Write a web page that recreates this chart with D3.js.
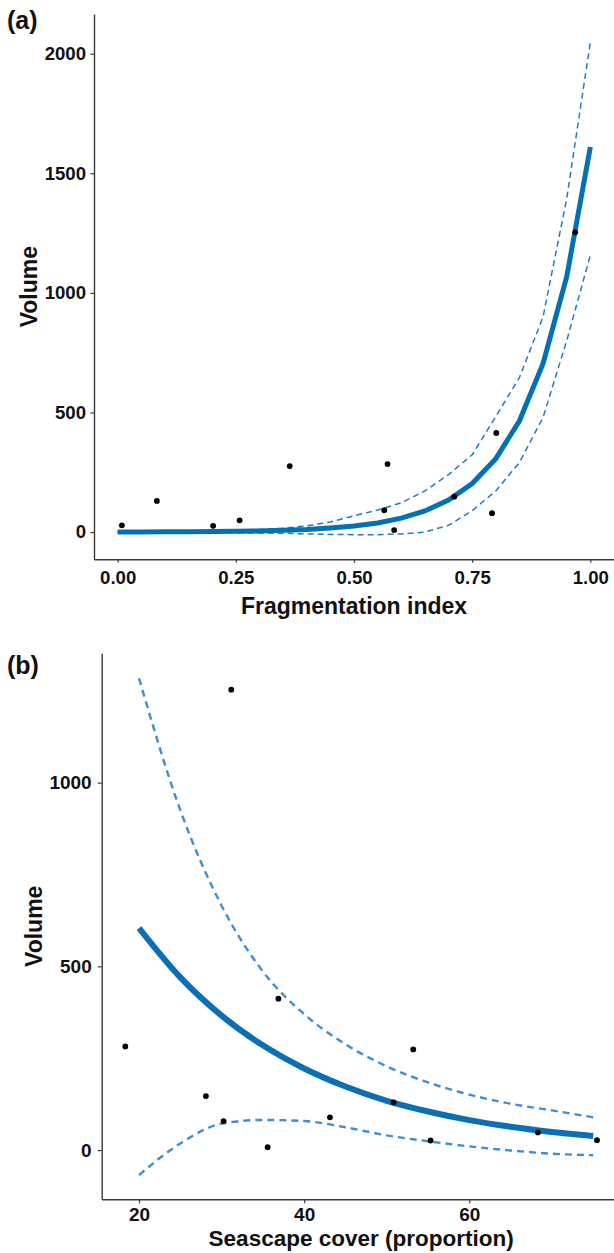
<!DOCTYPE html>
<html>
<head>
<meta charset="utf-8">
<script src="https://cdn.jsdelivr.net/npm/d3@7"></script>
<style>
  body { margin: 0; background: #fff; }
  svg { display: block; font-family: "Liberation Sans", Arial, sans-serif; }
  .tick text { font-weight: bold; fill: #111; }
  .ttl { font-weight: bold; fill: #111; }
</style>
</head>
<body>
<svg width="614" height="1253"></svg>
<script>
  // panel (a): volume vs fragmentation index
  const fragIndex  = [0.009, 0.083, 0.202, 0.258, 0.364, 0.571, 0.564, 0.585, 0.712, 0.792, 0.801, 0.968];
  const fragVolume = [28, 130, 26, 49, 276, 284, 91, 8, 148, 79, 414, 1253];
  const fragGrid   = [0, 0.05, 0.1, 0.15, 0.2, 0.25, 0.3, 0.35, 0.4, 0.45, 0.5, 0.55, 0.6, 0.65, 0.7, 0.75, 0.8, 0.85, 0.9, 0.95, 1];
  const fragFit    = [0.4, 0.6, 0.9, 1.4, 2.1, 3.2, 4.8, 7.3, 11, 17, 25, 38, 58, 88, 134, 203, 307, 465, 705, 1068, 1610];
  const fragUpper  = [1.6, 2.2, 3, 4, 5.5, 7.5, 11, 16, 26, 42, 68, 92, 122, 172, 240, 323, 483, 646, 900, 1394, 2048];
  const fragLower  = [-1, -1.5, -2, -2.5, -3, -3.5, -4, -5, -8, -10, -11, -11, -8, 0, 28, 89, 172, 291, 480, 800, 1158];
  const fragTicks  = [0, 0.25, 0.5, 0.75, 1];
  const volTicksA  = [0, 500, 1000, 1500, 2000];

  // panel (b): volume vs seascape cover
  const seaCover  = [18.34, 36.88, 53.21, 28.1, 50.83, 30.24, 43.12, 35.58, 55.31, 68.3, 75.46, 31.17];
  const seaVolume = [282, 412, 274, 147, 130, 79, 89, 8, 26, 48, 27, 1253];
  const seaGrid   = [20, 25, 30, 35, 40, 45, 50, 55, 60, 65, 70, 75];
  const seaFit    = [604, 470, 366, 285, 222, 173, 134, 105, 81.5, 63.5, 49.4, 38.5];
  const seaUpper  = [1284, 925, 665, 486, 370, 288, 228, 184, 151, 126, 108, 89];
  const seaLower  = [-68, 18, 72, 82, 79, 62, 40, 24, 10, -1, -10, -14];
  const seaTicks  = [20, 40, 60];
  const volTicksB = [0, 500, 1000];

  const svg = d3.select("svg");

  const drawPanel = (p) => {
    const x = d3.scaleLinear().domain(p.xDomain).range(p.xRange);
    const y = d3.scaleLinear().domain(p.yDomain).range(p.yRange);
    const g = svg.append("g");

    const line = (ys) => d3.line()
      .x((d, i) => x(p.grid[i]))
      .y(d => y(d))
      .curve(p.curve)(ys);

    g.append("path").attr("d", line(p.upper))
      .attr("fill", "none").attr("stroke", p.dashColor)
      .attr("stroke-width", p.dashWidth).attr("stroke-dasharray", p.dash);
    g.append("path").attr("d", line(p.lower))
      .attr("fill", "none").attr("stroke", p.dashColor)
      .attr("stroke-width", p.dashWidth).attr("stroke-dasharray", p.dash);
    g.append("path").attr("d", line(p.fit))
      .attr("fill", "none").attr("stroke", p.fitColor)
      .attr("stroke-width", p.fitWidth);

    g.selectAll("circle.pt").data(p.xs).enter().append("circle")
      .attr("class", "pt")
      .attr("cx", d => x(d))
      .attr("cy", (d, i) => y(p.ys[i]))
      .attr("r", 2.9)
      .attr("fill", "#000");

    const xAxis = g.append("g")
      .attr("transform", `translate(0,${p.yRange[0]})`)
      .call(d3.axisBottom(x).tickValues(p.xTicks).tickFormat(p.xFormat)
        .tickSize(p.tickLen).tickSizeOuter(0).tickPadding(p.xPad));
    const yAxis = g.append("g")
      .attr("transform", `translate(${p.xRange[0]},0)`)
      .call(d3.axisLeft(y).tickValues(p.yTicks).tickFormat(d3.format("d"))
        .tickSize(p.tickLen).tickSizeOuter(0).tickPadding(p.yPad));
    [xAxis, yAxis].forEach(a => {
      a.select(".domain").attr("stroke", "#3a3a3a").attr("stroke-width", 1.4);
      a.selectAll(".tick line").attr("stroke", "#3a3a3a").attr("stroke-width", 1.2);
      a.selectAll(".tick text").attr("font-size", p.tickFont);
    });

    g.append("text").attr("class", "ttl")
      .attr("x", (p.xRange[0] + p.xRange[1]) / 2)
      .attr("y", p.xTitleY)
      .attr("text-anchor", "middle")
      .attr("font-size", p.titleFont)
      .text(p.xTitle);
    g.append("text").attr("class", "ttl")
      .attr("transform", `translate(${p.yTitleX},${(p.yRange[0] + p.yRange[1]) / 2}) rotate(-90)`)
      .attr("text-anchor", "middle")
      .attr("font-size", 23)
      .text("Volume");
    g.append("text").attr("class", "ttl")
      .attr("x", 7).attr("y", p.tagY)
      .attr("font-size", 25)
      .text(p.tag);
  };

  drawPanel({
    tag: "(a)", tagY: 29,
    xs: fragIndex, ys: fragVolume,
    grid: fragGrid, fit: fragFit, upper: fragUpper, lower: fragLower,
    xDomain: [-0.05, 1.05], xRange: [94, 614],
    yDomain: [-114, 2166], yRange: [559.3, 14],
    xTicks: fragTicks, yTicks: volTicksA, xFormat: d3.format(".2f"),
    tickLen: 3.5, xPad: 7.5, yPad: 4.5, tickFont: 18.6,
    fitColor: "#0071b4", fitWidth: 5,
    dashColor: "#1f7cbf", dashWidth: 1.5, dash: "6,4",
    curve: d3.curveLinear,
    xTitle: "Fragmentation index", xTitleY: 614, yTitleX: 37, titleFont: 23
  });

  drawPanel({
    tag: "(b)", tagY: 674,
    xs: seaCover, ys: seaVolume,
    grid: seaGrid, fit: seaFit, upper: seaUpper, lower: seaLower,
    xDomain: [15.48, 78.32], xRange: [101.7, 620.6],
    yDomain: [-134, 1352], yRange: [1199.3, 653.3],
    xTicks: seaTicks, yTicks: volTicksB, xFormat: d3.format("d"),
    tickLen: 4, xPad: 4.5, yPad: 6, tickFont: 19,
    fitColor: "#0b6fb3", fitWidth: 6,
    dashColor: "#3d8fcf", dashWidth: 2.4, dash: "7,5",
    curve: d3.curveMonotoneX,
    xTitle: "Seascape cover (proportion)", xTitleY: 1246, yTitleX: 41.5, titleFont: 22.5
  });
</script>
</body>
</html>
